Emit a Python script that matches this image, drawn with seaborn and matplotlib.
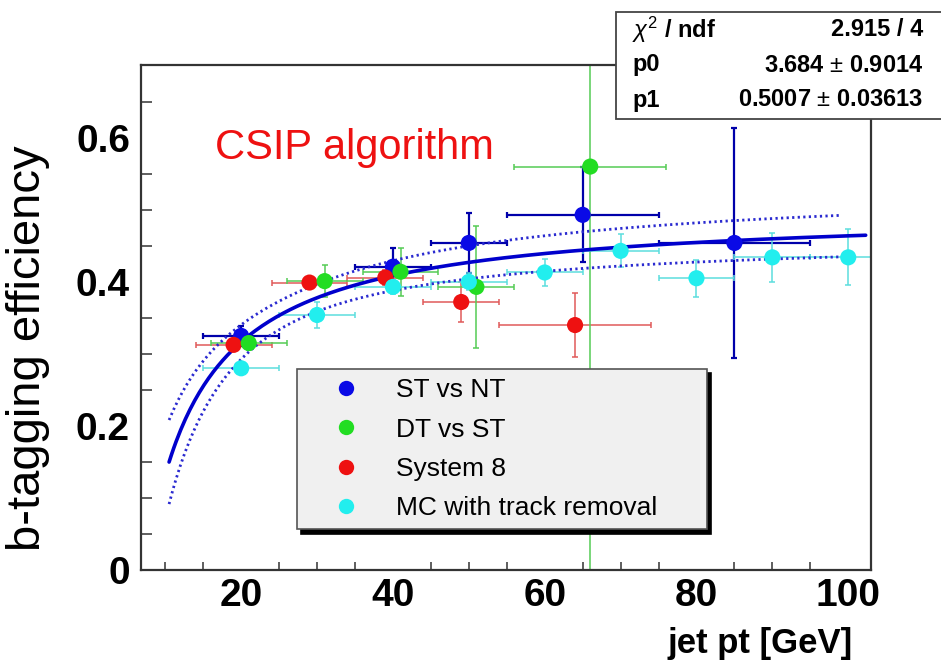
"""
Eficiencia de b-tagging (algoritmo CSIP) vs pt del jet.
Cuatro métodos de medida más el ajuste p1 - p0/x con su banda.
"""

import matplotlib
matplotlib.use("Agg")
import matplotlib.pyplot as plt
from matplotlib.patches import Rectangle
import numpy as np
import pandas as pd
import seaborn as sns

# --- datos ---
SERIES = ["ST vs NT", "DT vs ST", "System 8", "MC with track removal"]

st_pt = [20, 40, 50, 65, 85]
st_eff = [0.325, 0.421, 0.454, 0.493, 0.454]
st_xerr = [5, 5, 5, 10, 10]
st_yerr = [0.014, 0.026, 0.042, 0.066, 0.160]

dt_pt = [21, 31, 41, 51, 66]
dt_eff = [0.315, 0.401, 0.414, 0.393, 0.560]
dt_xerr = [5, 5, 5, 5, 10]
dt_yerr = [0.010, 0.022, 0.033, 0.085, 0.800]

s8_pt = [19, 29, 39, 49, 64]
s8_eff = [0.3125, 0.399, 0.406, 0.372, 0.340]
s8_xerr = [5, 5, 5, 5, 10]
s8_yerr = [0.008, 0.008, 0.010, 0.028, 0.045]

mc_pt = [20, 30, 40, 50, 60, 70, 80, 90, 100]
mc_eff = [0.280, 0.354, 0.393, 0.400, 0.413, 0.443, 0.405, 0.434, 0.434]
mc_xerr = [5, 5, 5, 5, 5, 5, 5, 5, 5]
mc_yerr = [0.005, 0.018, 0.010, 0.012, 0.019, 0.023, 0.026, 0.034, 0.039]

# resultado del ajuste (caja de estadística)
P0, P0_ERR = 3.684, 0.9014
P1, P1_ERR = 0.5007, 0.03613
RHO = 0.85  # correlación p0-p1 estimada a partir de la banda
FIT_RANGE = (10.5, 102.3)
BAND_RANGE = (10.5, 99.0)
STAT_ROWS = [(r"$\chi^{2}$ / ndf", "2.915 / 4"),
             ("p0", "3.684 $\\pm$ 0.9014"),
             ("p1", "0.5007 $\\pm$ 0.03613")]

X_TICKS = [20, 40, 60, 80, 100]
Y_TICKS = [0, 0.2, 0.4, 0.6]
Y_TICK_LABELS = ["0", "0.2", "0.4", "0.6"]

MARKER_COLORS = {"ST vs NT": "#0a0ae6", "DT vs ST": "#22dd22",
                 "System 8": "#ee1111", "MC with track removal": "#22eeee"}
BAR_COLORS = {"ST vs NT": "#0000aa", "DT vs ST": "#55cc55",
              "System 8": "#e05a5a", "MC with track removal": "#5cdede"}

sns.set_theme(style="white")
plt.rcParams["font.family"] = ["Liberation Sans", "DejaVu Sans"]
plt.rcParams["mathtext.fontset"] = "custom"
plt.rcParams["mathtext.rm"] = "Liberation Sans"
plt.rcParams["mathtext.it"] = "Liberation Sans:italic"
plt.rcParams["text.color"] = "black"
plt.rcParams["axes.labelcolor"] = "black"
plt.rcParams["xtick.labelcolor"] = "black"
plt.rcParams["ytick.labelcolor"] = "black"

frames = []
for name, pt, eff, xe, ye in [
    (SERIES[0], st_pt, st_eff, st_xerr, st_yerr),
    (SERIES[2], s8_pt, s8_eff, s8_xerr, s8_yerr),
    (SERIES[1], dt_pt, dt_eff, dt_xerr, dt_yerr),
    (SERIES[3], mc_pt, mc_eff, mc_xerr, mc_yerr),
]:
    frames.append(pd.DataFrame({"pt": pt, "eff": eff, "xerr": xe,
                                "yerr": ye, "series": name}))
df = pd.concat(frames, ignore_index=True)

fig = plt.figure(figsize=(9.41, 6.65), dpi=100)
ax = fig.add_axes([141 / 941, 1 - 570 / 665, 730 / 941, 505 / 665])

# barras de error
for name, sub in df.groupby("series", sort=False):
    lw = 1.6 if name == "ST vs NT" else 1.1
    ax.errorbar(sub["pt"], sub["eff"], xerr=sub["xerr"], yerr=sub["yerr"],
                fmt="none", ecolor=BAR_COLORS[name], elinewidth=lw,
                capsize=2.5, capthick=lw, zorder=2)

# ajuste y banda
xf = np.linspace(*FIT_RANGE, 300)
fit = P1 - P0 / xf
xb = np.linspace(*BAND_RANGE, 300)
sig = np.sqrt(P1_ERR ** 2 + (P0_ERR / xb) ** 2 - 2 * RHO * P1_ERR * P0_ERR / xb)
mid = P1 - P0 / xb
sns.lineplot(x=xf, y=fit, ax=ax, color="#0000cc", lw=2.6, zorder=3)
for band in (mid + sig, mid - sig):
    ax.plot(xb, band, color="#2a2ad0", lw=2.0, linestyle=(0, (0.8, 1.2)), zorder=3)

# marcadores
sns.scatterplot(data=df, x="pt", y="eff", hue="series", hue_order=SERIES,
                palette=MARKER_COLORS, s=135, edgecolor="none", ax=ax, zorder=4)

ax.set_xlim(6.8, 103)
ax.set_ylim(0, 0.701)
ax.set_xticks(X_TICKS)
ax.set_xticklabels([str(t) for t in X_TICKS], fontweight="bold", fontsize=28)
ax.set_yticks(Y_TICKS)
ax.set_yticklabels(Y_TICK_LABELS, fontweight="bold", fontsize=28)
ax.set_xticks(np.arange(10, 103, 5), minor=True)
ax.set_yticks(np.arange(0, 0.70, 0.05), minor=True)
ax.tick_params(axis="x", which="major", direction="in", length=11, width=1.3,
               color="#333333", pad=6)
ax.tick_params(axis="x", which="minor", direction="in", length=6, width=1.1,
               color="#333333", bottom=True)
ax.tick_params(axis="y", which="major", direction="in", length=15, width=1.3,
               color="#333333", pad=8)
ax.tick_params(axis="y", which="minor", direction="in", length=8, width=1.1,
               color="#333333", left=True)
for s in ax.spines.values():
    s.set_color("#333333")
    s.set_linewidth(1.6)

ax.set_xlabel("jet pt [GeV]", fontsize=25, fontweight="bold", ha="right")
ax.xaxis.set_label_coords(0.975, -0.112)
ax.set_ylabel("b-tagging efficiency", fontsize=34)
ax.yaxis.set_label_coords(-0.125, 0.44)

ax.text(16.6, 0.586, "CSIP algorithm", color="#ee1111", fontsize=30,
        ha="left", va="center")

handles, labels = ax.get_legend_handles_labels()
leg = ax.legend(handles, labels, loc="upper left",
                bbox_to_anchor=(156 / 730, (570 - 369) / 505, 410 / 730, 0.0),
                mode="expand", borderaxespad=0, fontsize=19, markerscale=0.95,
                handlelength=3.0, handletextpad=0.4, labelspacing=0.58,
                borderpad=0.35, frameon=True, fancybox=False,
                shadow={"ox": 3, "oy": -3, "color": "black", "alpha": 1})
leg.get_frame().set_facecolor("#f0f0f0")
leg.get_frame().set_edgecolor("#555555")
leg.get_frame().set_linewidth(1.2)
leg.set_zorder(6)

# caja de estadística del ajuste
fig.add_artist(Rectangle((616 / 941, 1 - 119 / 665), 340 / 941, 107 / 665,
                         transform=fig.transFigure, facecolor="white",
                         edgecolor="#444444", lw=1.3, zorder=10))
for i, (lab, val) in enumerate(STAT_ROWS):
    yy = 1 - (30 + 35 * i) / 665
    fig.text(632 / 941, yy, lab, fontsize=17, fontweight="bold",
             ha="left", va="center", zorder=11)
    fig.text(923 / 941, yy, val, fontsize=17, fontweight="bold",
             ha="right", va="center", zorder=11)

fig.savefig("out.png", dpi=100)
